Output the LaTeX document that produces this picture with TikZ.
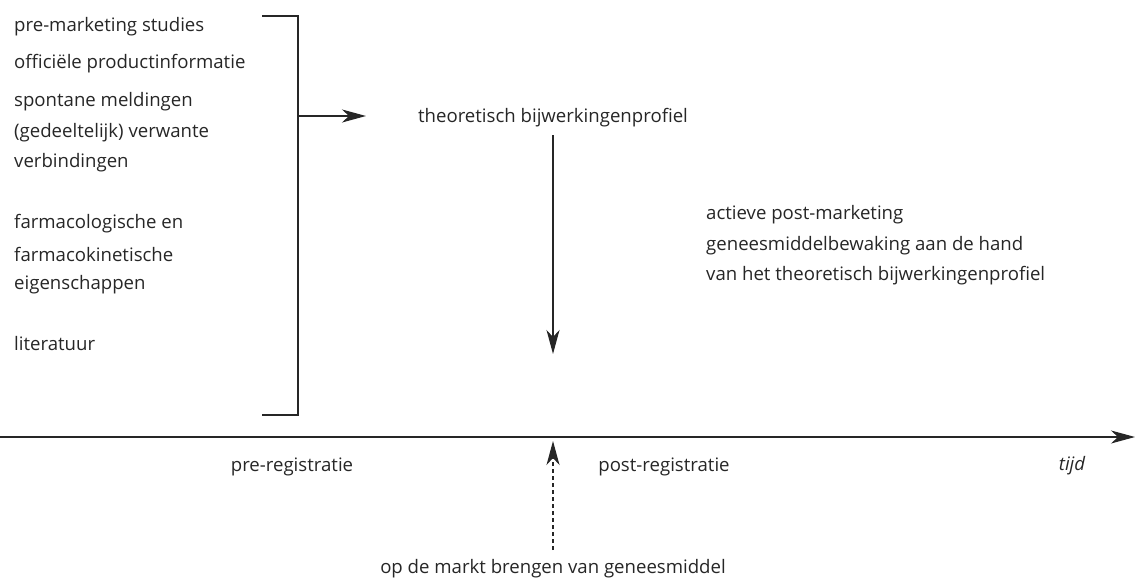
\documentclass[tikz,border=0pt]{standalone}
\usepackage{fontspec}
\setmainfont{Open Sans}
\usetikzlibrary{arrows.meta}
\begin{document}
\begin{tikzpicture}[x=1pt,y=-1pt,
  lbl/.style={inner sep=0pt,yshift=-2pt,font=\fontsize{18.6}{22}\selectfont,text=black!85},
  lft/.style={lbl,anchor=west},
  ln/.style={line width=1.2pt,black!85},
  tip/.style={-{Stealth[length=24pt,width=13pt,inset=7pt]}}]
\useasboundingbox (0,0) rectangle (1135,578);
% left texts
\node[lft] (t1) at (14,25) {pre-marketing studies};
\node[lft] (t2) at (14,62) {officiële productinformatie};
\node[lft] (t3) at (14,100) {spontane meldingen};
\node[lft] (t4) at (14,131) {(gedeeltelijk) verwante};
\node[lft] (t5) at (14,161) {verbindingen};
\node[lft] (t6) at (14,222) {farmacologische en};
\node[lft] (t7) at (14,252) {farmacokinetische};
\node[lft] (t8) at (14,283) {eigenschappen};
\node[lft] (t9) at (14,342) {literatuur};
% bracket
\coordinate (bt) at (262,16);
\coordinate (bb) at (262,415);
\draw[ln] (bt) -| (298,415) -- (bb);
\coordinate (bm) at (298,116);
\node[lbl] (theo) at (553,116) {theoretisch bijwerkingenprofiel};
\coordinate (am) at (366,116);
\draw[ln,tip] (bm) -- (am);
\coordinate (dt) at (553,135);
\coordinate (db) at (553,354);
\draw[ln,tip] (dt) -- (db);
% right text
\node[lft] (r1) at (706,213) {actieve post-marketing};
\node[lft] (r2) at (706,244) {geneesmiddelbewaking aan de hand};
\node[lft] (r3) at (706,274) {van het theoretisch bijwerkingenprofiel};
% timeline
\coordinate (ts) at (0,437);
\coordinate (te) at (1135,437);
\draw[ln,tip] (ts) -- (te);
\node[lbl] (pre) at (292,465) {pre-registratie};
\node[lbl] (post) at (664,465) {post-registratie};
\node[lbl,font=\fontsize{18.6}{22}\selectfont\itshape] (tijd) at (1072,464) {tijd};
% market
\node[lbl] (mkt) at (553,567) {op de markt brengen van geneesmiddel};
\coordinate (mk) at (553,550);
\coordinate (mt) at (553,441);
\draw[ln,dashed,dash pattern=on 4pt off 3pt,tip] (mk) -- (mt);
\end{tikzpicture}
\end{document}
